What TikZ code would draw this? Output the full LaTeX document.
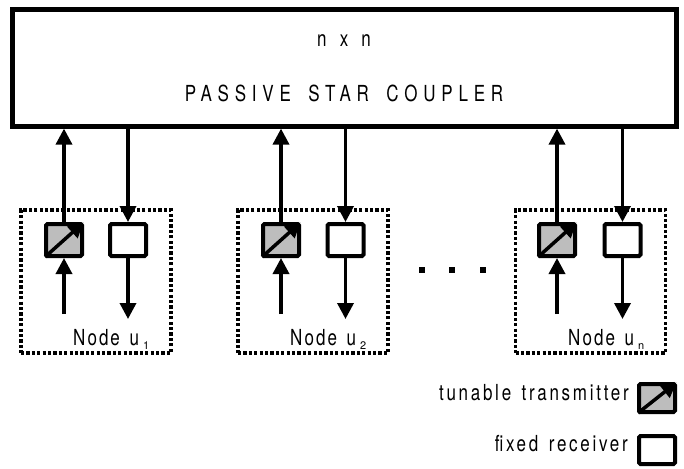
\documentclass[tikz,border=0pt]{standalone}
\usepackage{fontspec}
\usepackage{graphicx}
\setmainfont{TeX Gyre Heros}
\newfontfamily\lsA[LetterSpace=34]{TeX Gyre Heros}
\newfontfamily\lsB[LetterSpace=26]{TeX Gyre Heros}
\newfontfamily\lsC[LetterSpace=16]{TeX Gyre Heros}
\newfontfamily\lsD[LetterSpace=12]{TeX Gyre Heros}
\newcommand\vst[1]{\scalebox{1}[1.3]{#1}}
\usetikzlibrary{arrows.meta}
\definecolor{txgray}{RGB}{189,189,189}
\tikzset{
  coupler/.style={draw, line width=4.2pt, minimum width=664pt, minimum height=117pt, inner sep=0pt},
  txbox/.style={draw, line width=4pt, fill=txgray, rounded corners=1.5pt, minimum width=36pt, minimum height=32pt, inner sep=0pt},
  rxbox/.style={draw, line width=4pt, fill=white, rounded corners=1.5pt, minimum width=36pt, minimum height=32pt, inner sep=0pt},
  lgtx/.style={txbox, minimum height=28pt},
  lgrx/.style={rxbox, minimum height=28pt},
  nodebox/.style={draw, line width=3.4pt, dash pattern=on 3.2pt off 2.2pt, minimum width=150pt, minimum height=143pt, inner sep=0pt},
  arr/.style={line width=3.5pt, -{Triangle[length=16pt,width=16pt]}},
  tunarr/.style={line width=3.5pt, -{Triangle[length=15pt,width=15pt]}},
  txt/.style={inner sep=0pt, font=\fontsize{17}{20}\selectfont},
}
\begin{document}
\begin{tikzpicture}[x=1pt,y=-1pt]
\useasboundingbox (0,0) rectangle (684,468);
\node[coupler] (C) at (344.5,68) {};
\node[txt] (nxn) at (344,41) {\vst{\lsB n\hspace{4pt} x\hspace{4pt} n}};
\node[txt] (psc) at (344,93) {\vst{\lsA PASSIVE\hspace{7pt} STAR\hspace{7pt} COUPLER}};

% node boxes
\node[nodebox] (N1) at (96,281.5) {};
\node[nodebox] (N2) at (313,281.5) {};
\node[nodebox] (Nn) at (590.5,281.5) {};

\node[txbox] (t1) at (64,240) {};
\node[rxbox] (r1) at (128,240) {};
\node[txbox] (t2) at (281,240) {};
\node[rxbox] (r2) at (345.5,240) {};
\node[txbox] (tn) at (557,240) {};
\node[rxbox] (rn) at (622.5,240) {};

\foreach \t/\r in {t1/r1,t2/r2,tn/rn}{
  \draw[tunarr] ([shift={(1pt,1pt)}]\t.south west) -- ([shift={(-0.5pt,-0.5pt)}]\t.north east);
  \draw[arr] (\t.north) -- (\t.north |- C.south);
  \draw[arr] (\r.north |- C.south) -- (\r.north);
  \coordinate (\t-in) at ([yshift=-56pt]\t.south);
  \coordinate (\r-out) at ([yshift=-61pt]\r.south);
  \draw[arr] (\t-in) -- (\t.south);
  \draw[arr] (\r.south) -- (\r-out);
}

\node[txt, anchor=base west] (l1) at (73,345) {\vst{\lsD Node\hspace{3pt} u}\hspace{4pt}\raisebox{-4pt}{\fontsize{11}{12}\selectfont 1}};
\node[txt, anchor=base west] (l2) at (290,345) {\vst{\lsD Node\hspace{3pt} u}\hspace{4pt}\raisebox{-4pt}{\fontsize{11}{12}\selectfont 2}};
\node[txt, anchor=base west] (ln) at (568,345) {\vst{\lsD Node\hspace{3pt} u}\hspace{4pt}\raisebox{-4pt}{\fontsize{11}{12}\selectfont n}};

% ellipsis dots
\foreach \x in {422,452,483}{
  \fill (\x-2.6,267.4) rectangle (\x+2.6,272.6);
}

% legend
\node[lgtx] (lt) at (657,398) {};
\draw[tunarr] ([shift={(1pt,1pt)}]lt.south west) -- ([shift={(-0.5pt,-0.5pt)}]lt.north east);
\node[lgrx] (lr) at (657,450) {};
\node[txt, anchor=east] (ltt) at (629,393) {\vst{\lsC tunable\hspace{3pt} transmitter}};
\node[txt, anchor=east] (lrt) at (628,444) {\vst{\lsC fixed\hspace{3pt} receiver}};
\end{tikzpicture}
\end{document}
